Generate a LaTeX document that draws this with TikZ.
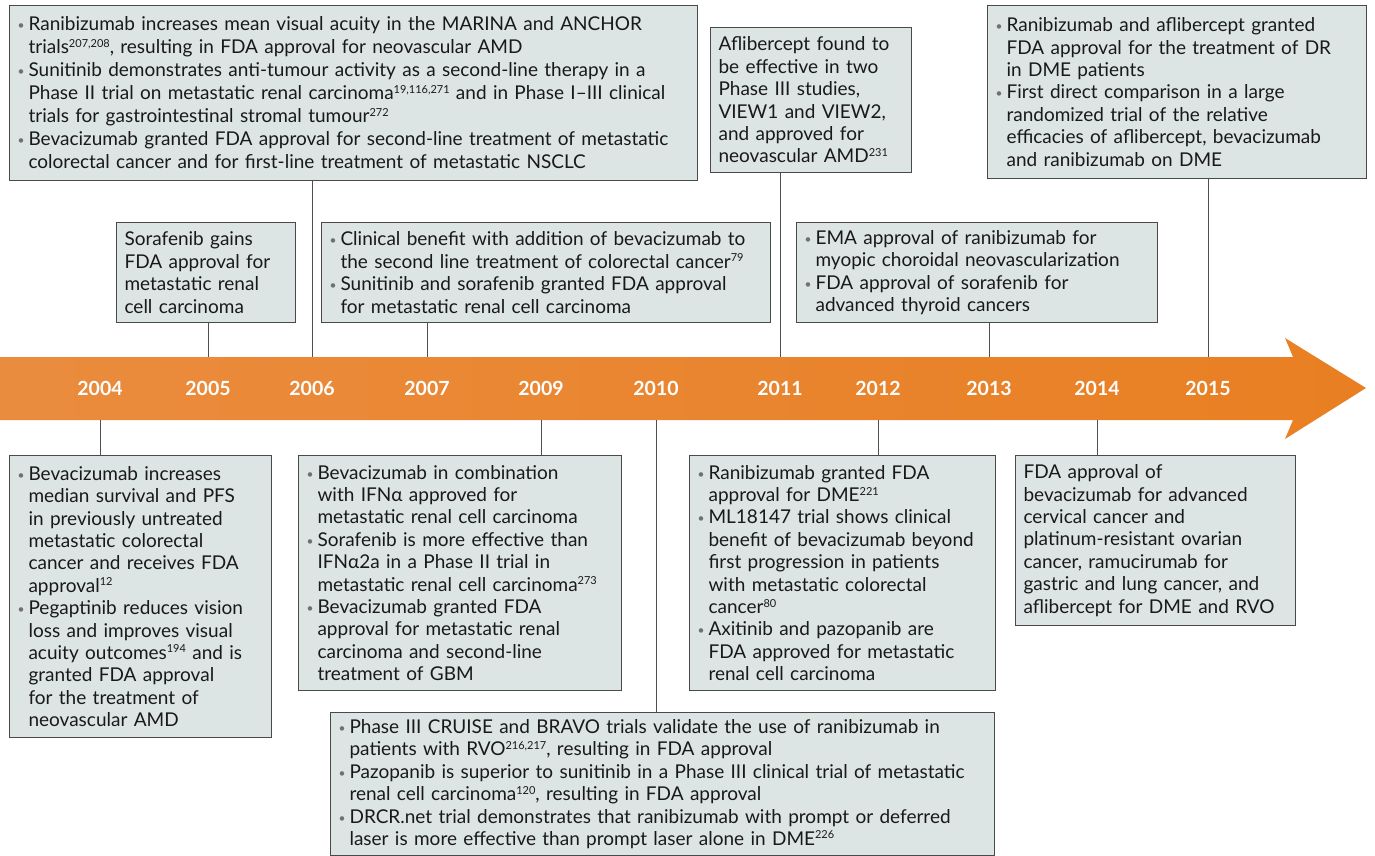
\documentclass[tikz,border=0pt]{standalone}
\usepackage{fontspec}
\setmainfont{Lato}
\definecolor{boxfill}{HTML}{DCE4E4}
\definecolor{boxline}{HTML}{4A4A4A}
\definecolor{bulgray}{HTML}{707070}
\definecolor{orL}{HTML}{EA8C3E}
\definecolor{orR}{HTML}{E97F22}
\definecolor{conncol}{HTML}{505050}
\newcommand{\bu}{\makebox[11pt][l]{\textcolor{bulgray}{\fontsize{12}{12}\selectfont\raisebox{1pt}{\textbullet}}}}
\newcommand{\ind}{\hspace*{11pt}}
\newcommand{\sups}[1]{\raisebox{6.5pt}{\fontsize{11}{11}\selectfont #1}}
\tikzset{
  tbox/.style={draw=boxline, fill=boxfill, line width=1.1pt, anchor=north west,
    inner xsep=8pt, inner ysep=4pt, align=left,
    font=\fontsize{19}{22.4}\selectfont, text=black!90},
  year/.style={text=white, font=\bfseries\fontsize{19.5}{19.5}\selectfont, anchor=center},
  conn/.style={draw=conncol, line width=0.9pt}
}
\begin{document}
\begin{tikzpicture}[x=1pt,y=-1pt]
\useasboundingbox (0,0) rectangle (1375,856);
\shade[left color=orL, right color=orR] (0,357) -- (1293,357) -- (1285,338) -- (1366,388) -- (1285,439) -- (1293,420) -- (0,420) -- cycle;
\foreach \yr/\xx in {2004/100,2005/208,2006/312,2007/427,2009/541,2010/656,2011/780,2012/878,2013/989,2014/1097,2015/1208}{
  \node[year] (y\yr) at (\xx,388) {\yr};
  \coordinate (t\yr) at (\xx,357);
  \coordinate (b\yr) at (\xx,420);
}
\node[tbox, font=\fontsize{19}{23}\selectfont, minimum width=688pt, minimum height=175pt, text width=672pt] (A) at (9,5) {%
\bu Ranibizumab increases mean visual acuity in the MARINA and ANCHOR\\
\ind trials\sups{207,208}, resulting in FDA approval for neovascular AMD\\
\bu Sunitinib demonstrates anti-tumour activity as a second-line therapy in a\\
\ind Phase II trial on metastatic renal carcinoma\sups{19,116,271} and in Phase I\textendash III clinical\\
\ind trials for gastrointestinal stromal tumour\sups{272}\\
\bu Bevacizumab granted FDA approval for second-line treatment of metastatic\\
\ind colorectal cancer and for first-line treatment of metastatic NSCLC};
\node[tbox, minimum width=201pt, minimum height=145pt, text width=185pt] (B) at (710,27) {%
Aflibercept found to\\
be effective in two\\
Phase III studies,\\
VIEW1 and VIEW2,\\
and approved for\\
neovascular AMD\sups{231}};
\node[tbox, minimum width=379pt, minimum height=173pt, text width=363pt] (C) at (987,5) {%
\bu Ranibizumab and aflibercept granted\\
\ind FDA approval for the treatment of DR\\
\ind in DME patients\\
\bu First direct comparison in a large\\
\ind randomized trial of the relative\\
\ind efficacies of aflibercept, bevacizumab\\
\ind and ranibizumab on DME};
\node[tbox, minimum width=179pt, minimum height=100pt, text width=163pt] (D) at (116,222) {%
Sorafenib gains\\
FDA approval for\\
metastatic renal\\
cell carcinoma};
\node[tbox, minimum width=449pt, minimum height=100pt, text width=433pt] (E) at (321,222) {%
\bu Clinical benefit with addition of bevacizumab to\\
\ind the second line treatment of colorectal cancer\sups{79}\\
\bu Sunitinib and sorafenib granted FDA approval\\
\ind for metastatic renal cell carcinoma};
\node[tbox, minimum width=361pt, minimum height=100pt, text width=345pt] (F) at (796,222) {%
\bu EMA approval of ranibizumab for\\
\ind myopic choroidal neovascularization\\
\bu FDA approval of sorafenib for\\
\ind advanced thyroid cancers};
\node[tbox, minimum width=262pt, minimum height=282pt, text width=246pt] (G) at (9,455) {%
\bu Bevacizumab increases\\
\ind median survival and PFS\\
\ind in previously untreated\\
\ind metastatic colorectal\\
\ind cancer and receives FDA\\
\ind approval\sups{12}\\
\bu Pegaptinib reduces vision\\
\ind loss and improves visual\\
\ind acuity outcomes\sups{194} and is\\
\ind granted FDA approval\\
\ind for the treatment of\\
\ind neovascular AMD};
\node[tbox, minimum width=323pt, minimum height=235pt, text width=307pt] (H) at (298,455) {%
\bu Bevacizumab in combination\\
\ind with IFNα approved for\\
\ind metastatic renal cell carcinoma\\
\bu Sorafenib is more effective than\\
\ind IFNα2a in a Phase II trial in\\
\ind metastatic renal cell carcinoma\sups{273}\\
\bu Bevacizumab granted FDA\\
\ind approval for metastatic renal\\
\ind carcinoma and second-line\\
\ind treatment of GBM};
\node[tbox, minimum width=664pt, minimum height=143pt, text width=648pt] (I) at (330,712) {%
\bu Phase III CRUISE and BRAVO trials validate the use of ranibizumab in\\
\ind patients with RVO\sups{216,217}, resulting in FDA approval\\
\bu Pazopanib is superior to sunitinib in a Phase III clinical trial of metastatic\\
\ind renal cell carcinoma\sups{120}, resulting in FDA approval\\
\bu DRCR.net trial demonstrates that ranibizumab with prompt or deferred\\
\ind laser is more effective than prompt laser alone in DME\sups{226}};
\node[tbox, minimum width=306pt, minimum height=235pt, text width=290pt] (J) at (689,455) {%
\bu Ranibizumab granted FDA\\
\ind approval for DME\sups{221}\\
\bu ML18147 trial shows clinical\\
\ind benefit of bevacizumab beyond\\
\ind first progression in patients\\
\ind with metastatic colorectal\\
\ind cancer\sups{80}\\
\bu Axitinib and pazopanib are\\
\ind FDA approved for metastatic\\
\ind renal cell carcinoma};
\node[tbox, minimum width=280pt, minimum height=170pt, text width=264pt] (K) at (1015,455) {%
FDA approval of\\
bevacizumab for advanced\\
cervical cancer and\\
platinum-resistant ovarian\\
cancer, ramucirumab for\\
gastric and lung cancer, and\\
aflibercept for DME and RVO};
\draw[conn] (A.south -| t2006) -- (t2006);
\draw[conn] (B.south -| t2011) -- (t2011);
\draw[conn] (C.south -| t2015) -- (t2015);
\draw[conn] (D.south -| t2005) -- (t2005);
\draw[conn] (E.south -| t2007) -- (t2007);
\draw[conn] (F.south -| t2013) -- (t2013);
\draw[conn] (b2004) -- (G.north -| b2004);
\draw[conn] (b2009) -- (H.north -| b2009);
\draw[conn] (b2010) -- (I.north -| b2010);
\draw[conn] (b2012) -- (J.north -| b2012);
\draw[conn] (b2014) -- (K.north -| b2014);
\end{tikzpicture}
\end{document}
